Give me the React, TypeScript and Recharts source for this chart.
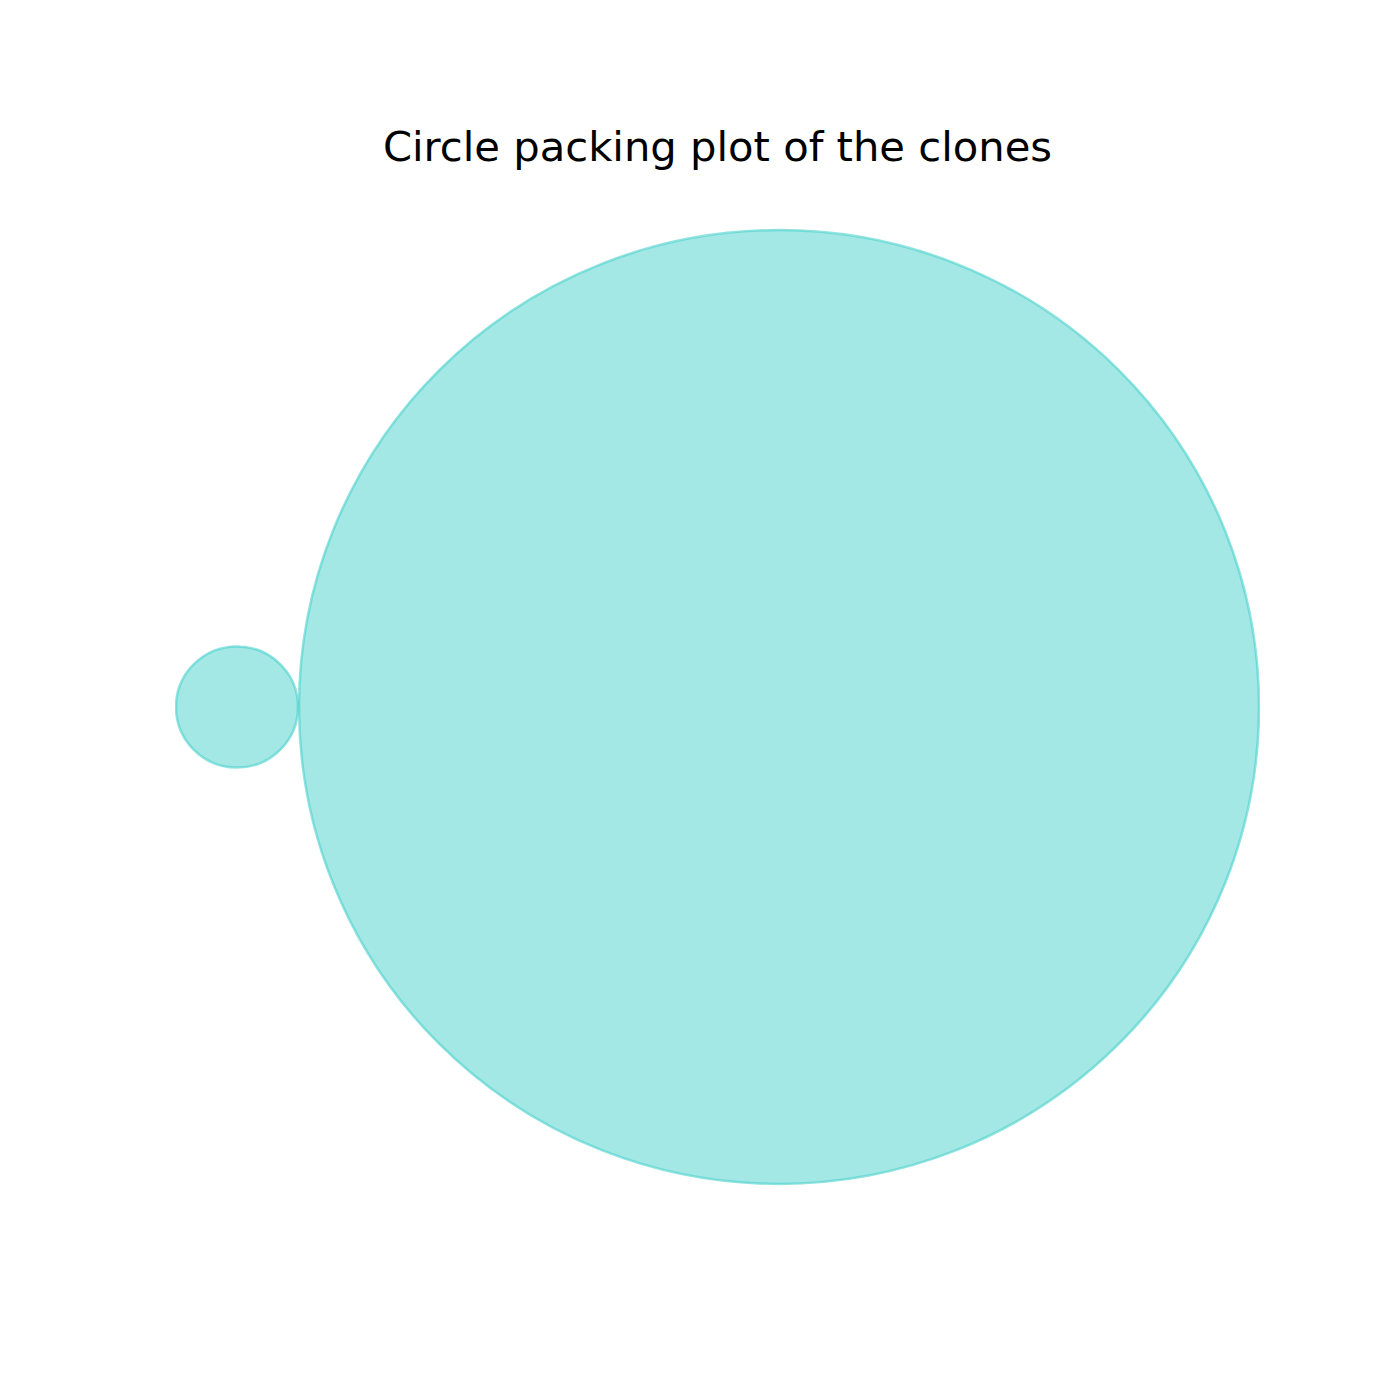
import React from "react";
import { ScatterChart, Scatter, XAxis, YAxis } from "recharts";

// Circle packing data (data units, axes span -1..1 on both axes)
const cloneNames = ["clone_1", "clone_2"];
const centerX = [0.1134, -0.8857];
const centerY = [0.0, 0.0];
const radii = [0.8848, 0.1124];

const xDomain: [number, number] = [-1, 1];
const yDomain: [number, number] = [-1, 1];

const WIDTH = 1400;
const HEIGHT = 1400;
const MARGIN = { top: 168, right: 140, bottom: 154, left: 175 };
const PLOT_W = WIDTH - MARGIN.left - MARGIN.right;
const PLOT_H = HEIGHT - MARGIN.top - MARGIN.bottom;

const COLOR = "#48D1CC";

const data = cloneNames.map((name, i) => ({
  name,
  x: centerX[i],
  y: centerY[i],
  r: radii[i],
}));

const CircleShape = (props: any) => {
  const { cx, cy, payload } = props;
  const rx = (payload.r / (xDomain[1] - xDomain[0])) * PLOT_W;
  const ry = (payload.r / (yDomain[1] - yDomain[0])) * PLOT_H;
  return (
    <ellipse
      cx={cx}
      cy={cy}
      rx={rx}
      ry={ry}
      fill={COLOR}
      fillOpacity={0.5}
      stroke={COLOR}
      strokeOpacity={0.6}
      strokeWidth={2.5}
    />
  );
};

export default function App() {
  return (
    <div style={{ position: "absolute", left: 0, top: 0, width: WIDTH, height: HEIGHT, background: "#fff" }}>
      <ScatterChart width={WIDTH} height={HEIGHT} margin={MARGIN}>
        <XAxis type="number" dataKey="x" domain={xDomain} hide allowDataOverflow />
        <YAxis type="number" dataKey="y" domain={yDomain} hide allowDataOverflow />
        <Scatter data={data} shape={CircleShape} isAnimationActive={false} />
      </ScatterChart>
      <svg
        width={WIDTH}
        height={HEIGHT}
        style={{ position: "absolute", left: 0, top: 0, pointerEvents: "none" }}
      >
        <text
          x={MARGIN.left + PLOT_W / 2}
          y={161}
          textAnchor="middle"
          fontFamily="DejaVu Sans"
          fontSize={41.7}
          fill="#000"
        >
          Circle packing plot of the clones
        </text>
      </svg>
    </div>
  );
}
